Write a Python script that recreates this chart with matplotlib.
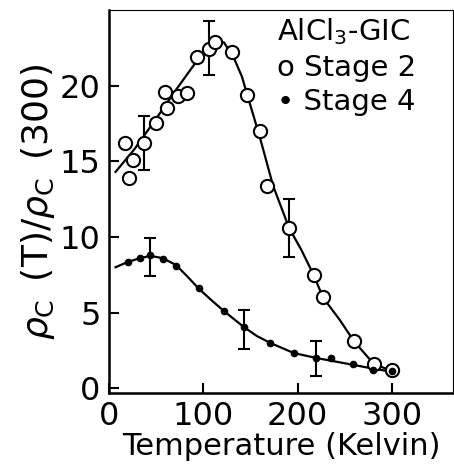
import matplotlib.pyplot as plt

plt.rcParams['font.family'] = ['DejaVu Sans']
plt.rcParams['mathtext.fontset'] = 'dejavusans'

# Stage 2 measurements (open circles)
t2 = [17, 21, 26, 37, 50, 59, 62, 73, 83, 93, 106, 113, 130, 146, 160, 168, 191, 217, 227, 260, 281, 300]
r2 = [16.2, 13.9, 15.1, 16.2, 17.5, 19.6, 18.5, 19.3, 19.5, 21.9, 22.4, 22.9, 22.2, 19.4, 17.0, 13.4, 10.6, 7.5, 6.0, 3.1, 1.6, 1.2]
# Stage 4 measurements (filled dots)
t4 = [20, 33, 44, 57, 71, 95, 122, 143, 171, 196, 220, 236, 259, 280, 300]
r4 = [8.35, 8.6, 8.8, 8.57, 8.1, 6.6, 5.1, 4.05, 3.0, 2.33, 2.0, 2.0, 1.6, 1.2, 1.15]

# error bars
t2_err = [37, 106, 191]
r2_err = [16.2, 22.5, 10.6]
e2_err = [1.8, 1.8, 1.9]
t4_err = [44, 143, 220]
r4_err = [8.65, 3.9, 1.95]
e4_err = [1.25, 1.3, 1.15]

# guide curves
c2_t = [7, 27, 51, 72, 94, 104, 113, 122, 132, 141, 150, 160, 174, 191, 204, 217, 227, 245, 260, 281, 298]
c2_r = [14.3, 15.8, 17.9, 19.8, 21.7, 22.6, 23.0, 22.85, 21.9, 20.6, 18.7, 16.6, 13.4, 10.6, 9.15, 7.5, 6.0, 4.5, 3.1, 1.6, 1.2]
c4_t = [7, 20, 33, 44, 57, 71, 83, 95, 108, 122, 143, 157, 171, 196, 220, 259, 280, 299]
c4_r = [8.0, 8.35, 8.6, 8.75, 8.6, 8.15, 7.4, 6.6, 5.86, 5.1, 4.05, 3.45, 3.0, 2.33, 2.0, 1.55, 1.3, 1.1]

fig = plt.figure(figsize=(4.54, 4.75), dpi=100)
ax = fig.add_axes([0.240, 0.173, 0.758, 0.806])

ax.plot(c2_t, c2_r, color='black', lw=1.6)
ax.plot(c4_t, c4_r, color='black', lw=1.6)
ax.errorbar(t2_err, r2_err, yerr=e2_err, fmt='none', ecolor='black', elinewidth=1.5, capsize=4, capthick=1.5)
ax.errorbar(t4_err, r4_err, yerr=e4_err, fmt='none', ecolor='black', elinewidth=1.5, capsize=4, capthick=1.5)
ax.plot(t2, r2, 'o', ms=9.5, mfc='white', mec='black', mew=1.5, zorder=3)
ax.plot(t4, r4, 'o', ms=4.5, color='black', zorder=4)

ax.set_xlim(0, 365)
ax.set_ylim(-0.3, 25)
ax.set_xticks([0, 100, 200, 300])
ax.set_yticks([0, 5, 10, 15, 20])
ax.tick_params(direction='in', length=7, width=1.5, labelsize=23, pad=6)
for s in ['left', 'bottom']:
    ax.spines[s].set_linewidth(1.8)
for s in ['top', 'right']:
    ax.spines[s].set_linewidth(0.8)

ax.set_xlabel('Temperature (Kelvin)', fontsize=22, labelpad=0)
ax.set_ylabel(r'$\rho_{\rm C}\,$ (T)/$\rho_{\rm C}\,$ (300)', fontsize=26, labelpad=2)

ax.text(0.487, 0.985, r'AlCl$_3$-GIC', transform=ax.transAxes, fontsize=21, va='top')
ax.text(0.487, 0.885, 'o Stage 2', transform=ax.transAxes, fontsize=21, va='top')
ax.text(0.487, 0.795, '\u2022 Stage 4', transform=ax.transAxes, fontsize=21, va='top')

fig.savefig('out.png', dpi=100)
